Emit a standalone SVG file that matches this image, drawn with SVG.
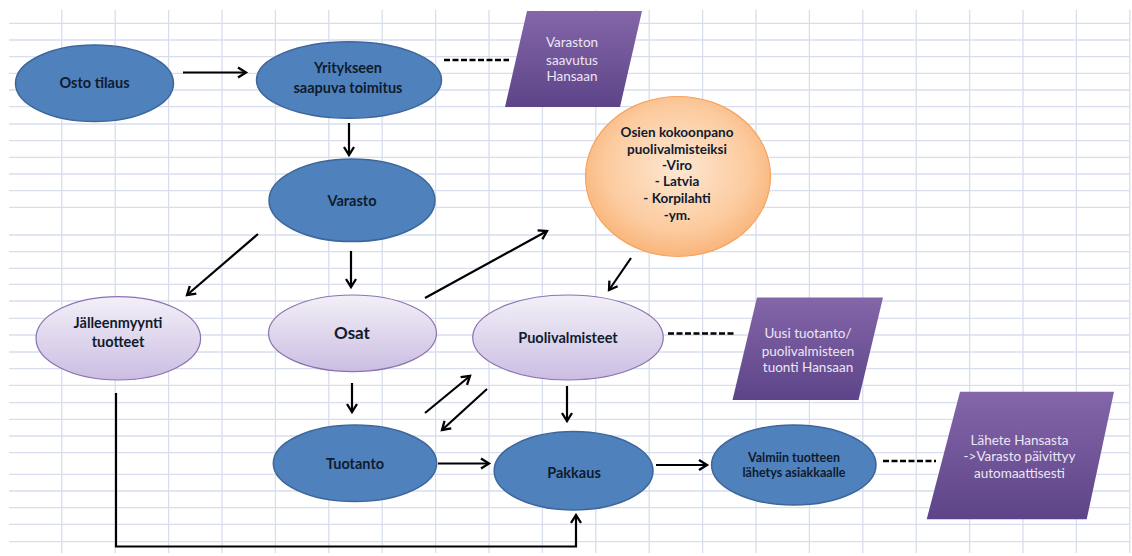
<svg xmlns="http://www.w3.org/2000/svg" width="1132" height="556" viewBox="0 0 1132 556">
  <defs>
    <linearGradient id="gLav" x1="0" y1="0" x2="0" y2="1">
      <stop offset="0" stop-color="#f3f0f8"/>
      <stop offset="1" stop-color="#cbbde2"/>
    </linearGradient>
    <linearGradient id="gPurple" x1="0" y1="0" x2="0" y2="1">
      <stop offset="0" stop-color="#8466a9"/>
      <stop offset="1" stop-color="#5d4488"/>
    </linearGradient>
    <radialGradient id="gOrange" cx="0.5" cy="0.45" r="0.55">
      <stop offset="0" stop-color="#fde7d2"/>
      <stop offset="0.7" stop-color="#fccb9f"/>
      <stop offset="1" stop-color="#f9b57a"/>
    </radialGradient>
    <marker id="ah" markerWidth="13" markerHeight="13" refX="10.5" refY="6.5" orient="auto" markerUnits="userSpaceOnUse">
      <path d="M2.5,1.5 L10.5,6.5 L2.5,11.5" fill="none" stroke="#000" stroke-width="2.3" stroke-linejoin="miter"/>
    </marker>
  </defs>
  <style>
    .grid { stroke: #d9deee; stroke-width: 1.3; fill: none; }
    .blue { fill: #4f81bd; stroke: #3d669a; stroke-width: 1.5; }
    .lav { fill: url(#gLav); stroke: #8a73b1; stroke-width: 1.2; }
    .orange { fill: url(#gOrange); stroke: #f5a35e; stroke-width: 1.2; }
    .para { fill: url(#gPurple); }
    .t { font-family: Lato, "Liberation Sans", sans-serif; font-weight: bold; fill: #0f1b2e; text-anchor: middle; }
    .tw { font-family: Lato, "Liberation Sans", sans-serif; fill: #ece6f5; text-anchor: middle; font-size: 13.5px; }
    .arrow { stroke: #000; stroke-width: 2.2; fill: none; marker-end: url(#ah); }
    .dash { stroke: #000; stroke-width: 2.6; fill: none; stroke-dasharray: 6 2.5; }
  </style>

  <rect width="1132" height="556" fill="#ffffff"/>

  <!-- spreadsheet grid -->
  <g id="grid">
    <path class="grid" d="M9,23.3H1130 M9,40H1130 M9,56.7H1130 M9,73.3H1130 M9,90H1130 M9,106.7H1130 M9,124H1130 M9,140.7H1130 M9,157.3H1130 M9,174H1130 M9,190.7H1130 M9,207.3H1130 M9,235H1130 M9,251.7H1130 M9,268.3H1130 M9,284.3H1130 M9,301H1130 M9,318.3H1130 M9,335H1130 M9,352H1130 M9,368.7H1130 M9,385.3H1130 M9,402.7H1130 M9,419.3H1130 M9,436H1130 M9,452.7H1130 M9,474.3H1130 M9,491H1130 M9,507.7H1130 M9,524.3H1130 M9,541.7H1130"/>
    <path class="grid" d="M61.8,10V553 M115.2,10V553 M168.6,10V553 M222,10V553 M275.4,10V553 M328.8,10V553 M382.2,10V553 M435.6,10V553 M489,10V553 M542.4,10V553 M595.8,10V553 M649.2,10V553 M702.6,10V553 M756,10V553 M809.4,10V553 M862.8,10V553 M916.2,10V553 M969.6,10V553 M1023,10V553 M1076.4,10V553 M1129.8,10V553"/>
  </g>

  <!-- connectors -->
  <g id="connectors">
    <line class="arrow" x1="183" y1="72.5" x2="246" y2="72.5"/>
    <line class="arrow" x1="349" y1="123" x2="349" y2="155"/>
    <line class="arrow" x1="351" y1="251" x2="351" y2="287"/>
    <line class="arrow" x1="258" y1="234" x2="187" y2="295"/>
    <line class="arrow" x1="425" y1="298" x2="547" y2="231"/>
    <line class="arrow" x1="631" y1="258" x2="609" y2="290"/>
    <line class="arrow" x1="352" y1="383" x2="352" y2="412"/>
    <line class="arrow" x1="425" y1="413" x2="470" y2="376"/>
    <line class="arrow" x1="487" y1="389" x2="442" y2="430"/>
    <line class="arrow" x1="567" y1="386" x2="567" y2="421"/>
    <line class="arrow" x1="438" y1="463.5" x2="489" y2="463.5"/>
    <line class="arrow" x1="656" y1="465" x2="707" y2="465"/>
    <polyline class="arrow" points="116,393 116,546.5 576,546.5 576,515"/>
    <line class="dash" x1="444" y1="60" x2="509" y2="60"/>
    <line class="dash" x1="668" y1="333.5" x2="734" y2="333.5"/>
    <line class="dash" x1="883" y1="461" x2="936" y2="461"/>
  </g>

  <!-- nodes -->
  <g id="osto-tilaus">
    <ellipse class="blue" cx="94.5" cy="83.3" rx="79" ry="38.3"/>
    <text class="t" x="94.5" y="88" font-size="14.5">Osto tilaus</text>
  </g>

  <g id="yritykseen">
    <ellipse class="blue" cx="349" cy="80" rx="92.5" ry="38.3"/>
    <text class="t" x="348" y="72.5" font-size="14.5">Yritykseen</text>
    <text class="t" x="348" y="92.5" font-size="14.5">saapuva toimitus</text>
  </g>

  <g id="varaston-saavutus">
    <polygon class="para" points="527,11 642,11 620,107 505,107"/>
    <text class="tw" x="572" y="47">Varaston</text>
    <text class="tw" x="572" y="64.5">saavutus</text>
    <text class="tw" x="572" y="81">Hansaan</text>
  </g>

  <g id="kokoonpano">
    <ellipse class="orange" cx="678" cy="176.5" rx="92.5" ry="80"/>
    <text class="t" x="677" y="137" font-size="13.5">Osien kokoonpano</text>
    <text class="t" x="677" y="153.5" font-size="13.5">puolivalmisteiksi</text>
    <text class="t" x="677" y="170" font-size="13.5">-Viro</text>
    <text class="t" x="677" y="186" font-size="13.5">- Latvia</text>
    <text class="t" x="677" y="203" font-size="13.5">- Korpilahti</text>
    <text class="t" x="677" y="220" font-size="13.5">-ym.</text>
  </g>

  <g id="varasto">
    <ellipse class="blue" cx="352" cy="200.3" rx="83" ry="41.3"/>
    <text class="t" x="352" y="205.5" font-size="14.5">Varasto</text>
  </g>

  <g id="jalleenmyynti">
    <ellipse class="lav" cx="118.3" cy="338.3" rx="82.3" ry="41.7"/>
    <text class="t" x="118" y="327.5" font-size="14.5">Jälleenmyynti</text>
    <text class="t" x="118" y="346.5" font-size="14.5">tuotteet</text>
  </g>

  <g id="osat">
    <ellipse class="lav" cx="352.5" cy="333.3" rx="84" ry="38.3"/>
    <text class="t" x="352" y="339" font-size="17">Osat</text>
  </g>

  <g id="puolivalmisteet">
    <ellipse class="lav" cx="568" cy="337.5" rx="95.3" ry="42.5"/>
    <text class="t" x="568" y="342.5" font-size="14.5">Puolivalmisteet</text>
  </g>

  <g id="uusi-tuotanto">
    <polygon class="para" points="757,297.5 883,297.5 858.5,400 732.5,400"/>
    <text class="tw" x="808" y="338">Uusi tuotanto/</text>
    <text class="tw" x="808" y="355.5">puolivalmisteen</text>
    <text class="tw" x="808" y="372">tuonti Hansaan</text>
  </g>

  <g id="tuotanto">
    <ellipse class="blue" cx="355" cy="463.3" rx="81.7" ry="38.3"/>
    <text class="t" x="355" y="468.5" font-size="14.5">Tuotanto</text>
  </g>

  <g id="pakkaus">
    <ellipse class="blue" cx="573.6" cy="470.8" rx="79.4" ry="39.2"/>
    <text class="t" x="574" y="477.5" font-size="14.5">Pakkaus</text>
  </g>

  <g id="valmiin-tuotteen">
    <ellipse class="blue" cx="793.8" cy="465" rx="82.2" ry="40"/>
    <text class="t" x="794" y="461.5" font-size="12.5">Valmiin tuotteen</text>
    <text class="t" x="794" y="477" font-size="12.5">lähetys asiakkaalle</text>
  </g>

  <g id="lahete-hansasta">
    <polygon class="para" points="960,391.7 1114,391.7 1086.7,519.3 926.7,519.3"/>
    <text class="tw" x="1019.5" y="444.5">Lähete Hansasta</text>
    <text class="tw" x="1019.5" y="461">-&gt;Varasto päivittyy</text>
    <text class="tw" x="1019.5" y="477.5">automaattisesti</text>
  </g>
</svg>
